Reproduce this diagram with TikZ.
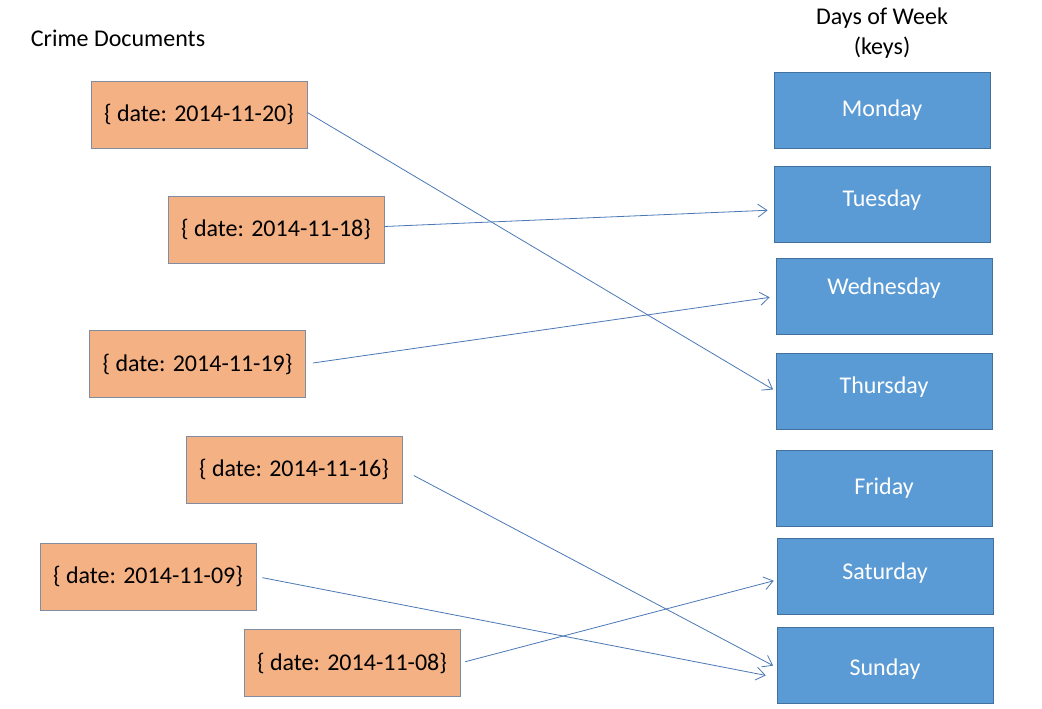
\documentclass[tikz,border=0pt]{standalone}
\usepackage{fontspec}
\setmainfont{Carlito}
\usetikzlibrary{arrows.meta}
\definecolor{docfill}{RGB}{244,177,131}
\definecolor{docline}{RGB}{128,140,162}
\definecolor{dayfill}{RGB}{91,155,213}
\definecolor{dayline}{RGB}{65,113,156}
\definecolor{link}{RGB}{74,120,180}
\begin{document}
\begin{tikzpicture}[x=1pt, y=-1pt,
    docbox/.style={draw=docline, fill=docfill, line width=0.8pt, minimum width=216pt, minimum height=67pt, inner sep=0pt, font=\fontsize{24}{28}\selectfont},
    daybox/.style={draw=dayline, fill=dayfill, line width=0.8pt, minimum width=216pt, minimum height=76pt, inner sep=0pt, text=white, font=\fontsize{24}{28}\selectfont},
    link/.style={draw=link, line width=0.8pt, -{Straight Barb[length=9pt,width=13pt]}}]
    \useasboundingbox (0,0) rectangle (1042,709);
    % Titulos
    \node[font=\fontsize{24}{28}\selectfont] (doctitle) at (118,38) {Crime Documents};
    \node[align=center, font=\fontsize{24}{30}\selectfont] (daytitle) at (882,33) {Days of Week\\(keys)};
    
    % Documentos
    \node[docbox] (d20) at (199,114.5) {\{ date: 2014-11-20\}};
    \node[docbox] (d18) at (276,229.5) {\{ date: 2014-11-18\}};
    \node[docbox] (d19) at (197.5,364) {\{ date: 2014-11-19\}};
    \node[docbox] (d16) at (294,469.5) {\{ date: 2014-11-16\}};
    \node[docbox] (d09) at (148,576.5) {\{ date: 2014-11-09\}};
    \node[docbox] (d08) at (352,663) {\{ date: 2014-11-08\}};
    
    % Dias
    \node[daybox] (mon) at (882,110) {Monday};
    \node[daybox, text depth=11pt] (tue) at (882,204) {Tuesday};
    \node[daybox, text depth=21pt] (wed) at (884,296.5) {Wednesday};
    \node[daybox, text depth=11pt] (thu) at (884,391) {Thursday};
    \node[daybox] (fri) at (884,488) {Friday};
    \node[daybox, text depth=9pt] (sat) at (885,576) {Saturday};
    \node[daybox, text height=23pt] (sun) at (885,665.5) {Sunday};
    
    % Enlaces
    \draw[link, shorten >=3pt] ([yshift=2pt]d20.east) -- (thu.west);
    \draw[link, shorten >=6pt] ([yshift=3pt]d18.east) -- ([yshift=-6pt]tue.west);
    \draw[link, shorten <=7pt, shorten >=6pt] (d19.east) -- (wed.west);
    \draw[link, shorten <=13pt, shorten >=4pt] (d16.east) -- ([yshift=-2pt]sun.west);
    \draw[link, shorten <=6pt, shorten >=11pt] (d09.east) -- ([yshift=-12pt]sun.west);
    \draw[link, shorten <=5pt, shorten >=3pt] (d08.east) -- ([yshift=-4pt]sat.west);
\end{tikzpicture}
\end{document}
